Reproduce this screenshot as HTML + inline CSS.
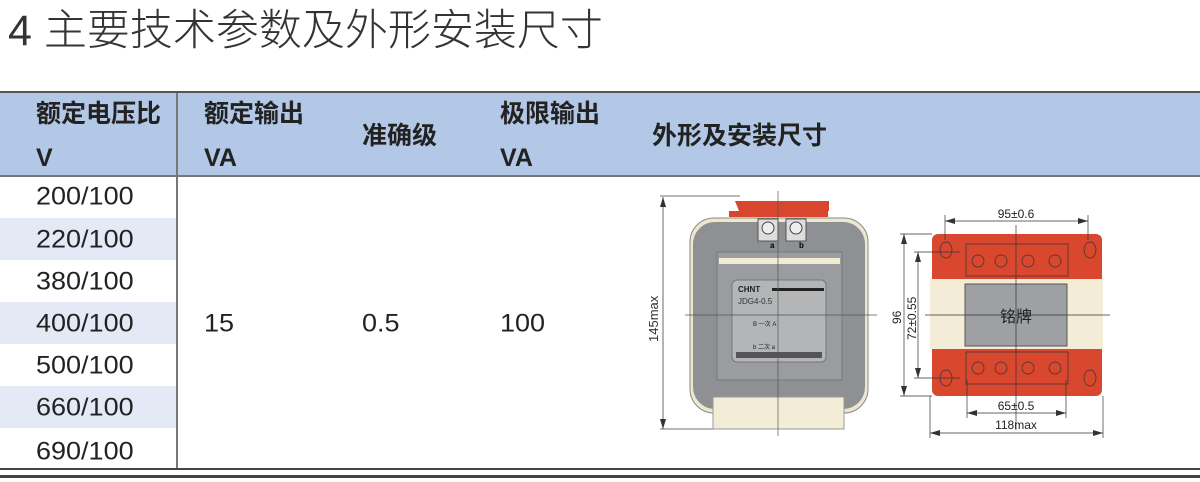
<!DOCTYPE html>
<html><head><meta charset="utf-8"><style>
body{margin:0;width:1200px;height:482px;background:#fff;font-family:"Liberation Sans","Noto Sans CJK SC",sans-serif;position:relative;overflow:hidden}
.a{position:absolute;white-space:nowrap}
.h{font-weight:bold;font-size:25px;color:#222;line-height:28px}
.c{font-size:27px;color:#222;line-height:30px;transform:scaleY(0.93);transform-origin:0 50%}
</style></head><body>
<div class="a" style="left:8px;top:6px;font-size:43px;color:#333;font-weight:300;line-height:50px">4 主要技术参数及外形安装尺寸</div>
<div class="a" style="left:0;top:91px;width:1200px;height:2px;background:#555"></div>
<div class="a" style="left:0;top:93px;width:1200px;height:83px;background:#b3c8e6"></div>
<div class="a" style="left:0;top:175px;width:1200px;height:2px;background:#777"></div>
<div class="a" style="left:0;top:218px;width:176px;height:42px;background:#e3eaf6"></div>
<div class="a" style="left:0;top:302px;width:176px;height:42px;background:#e3eaf6"></div>
<div class="a" style="left:0;top:386px;width:176px;height:42px;background:#e3eaf6"></div>
<div class="a" style="left:176px;top:93px;width:2px;height:377px;background:#777"></div>
<div class="a" style="left:0;top:468px;width:1200px;height:2px;background:#444"></div>
<div class="a" style="left:0;top:475px;width:1200px;height:3px;background:#444"></div>
<div class="a h" style="left:36px;top:100px">额定电压比</div>
<div class="a h" style="left:36px;top:144px">V</div>
<div class="a h" style="left:204px;top:100px">额定输出</div>
<div class="a h" style="left:204px;top:144px">VA</div>
<div class="a h" style="left:362px;top:122px">准确级</div>
<div class="a h" style="left:500px;top:100px">极限输出</div>
<div class="a h" style="left:500px;top:144px">VA</div>
<div class="a h" style="left:652px;top:122px">外形及安装尺寸</div>
<div class="a c" style="left:36px;top:181px">200/100</div>
<div class="a c" style="left:36px;top:224px">220/100</div>
<div class="a c" style="left:36px;top:266px">380/100</div>
<div class="a c" style="left:36px;top:308px">400/100</div>
<div class="a c" style="left:36px;top:350px">500/100</div>
<div class="a c" style="left:36px;top:392px">660/100</div>
<div class="a c" style="left:36px;top:436px">690/100</div>
<div class="a c" style="left:204px;top:308px">15</div>
<div class="a c" style="left:362px;top:308px">0.5</div>
<div class="a c" style="left:500px;top:308px">100</div>
<svg class="a" style="left:0;top:0" width="1200" height="482" font-family="Liberation Sans,Noto Sans CJK SC,sans-serif">
<defs><marker id="m" viewBox="0 0 10 6" refX="10" refY="3" markerWidth="10" markerHeight="6" orient="auto-start-reverse" markerUnits="userSpaceOnUse"><path d="M0,0L10,3L0,6z" fill="#333"/></marker></defs>
<g stroke="#444" stroke-width="0.8" fill="none">
<line x1="663" y1="197" x2="663" y2="429" marker-start="url(#m)" marker-end="url(#m)"/><line x1="660" y1="196" x2="740" y2="196"/><line x1="660" y1="429" x2="720" y2="429"/>
</g>
<text x="0" y="0" font-size="13" fill="#333" transform="translate(658,342) rotate(-90)">145max</text>
<rect x="690" y="218" width="178" height="195" rx="24" fill="#eee7cf" stroke="#888"/>
<rect x="693" y="222" width="172" height="187" rx="22" fill="#8e9093"/>
<rect x="717" y="252" width="125" height="128" fill="#9a9c9f" stroke="#777"/>
<rect x="719" y="258" width="121" height="6" fill="#f1ebd2"/>
<rect x="732" y="280" width="94" height="82" rx="5" fill="#b3b5b7" stroke="#777"/>
<text x="738" y="292" font-size="8" font-weight="bold" fill="#222">CHNT</text>
<rect x="772" y="288" width="52" height="3" fill="#222"/>
<text x="738" y="304" font-size="8" fill="#333">JDG4-0.5</text>
<text x="753" y="326" font-size="6" fill="#222">B  一次  A</text>
<text x="753" y="349" font-size="6" fill="#222">b  二次  a</text>
<rect x="736" y="352" width="86" height="6" fill="#555"/>
<rect x="713" y="397" width="131" height="32" fill="#f3edd8" stroke="#999"/>
<polygon points="735,201 829,201 829,211 739,211" fill="#d9462e"/>
<rect x="729" y="211" width="99" height="6" fill="#d9462e"/>
<rect x="758" y="219" width="20" height="22" fill="#ddd" stroke="#555"/><rect x="786" y="219" width="20" height="22" fill="#ddd" stroke="#555"/>
<circle cx="768" cy="228" r="6" fill="#eee" stroke="#444"/><circle cx="796" cy="228" r="6" fill="#eee" stroke="#444"/>
<text x="770" y="248" font-size="8" font-weight="bold">a</text><text x="799" y="248" font-size="8" font-weight="bold">b</text>
<line x1="778" y1="191" x2="778" y2="436" stroke="#555" stroke-width="0.7"/>
<line x1="685" y1="315" x2="877" y2="315" stroke="#555" stroke-width="0.7"/>
<rect x="932" y="234" width="170" height="162" rx="6" fill="#d9472e"/>
<rect x="930" y="279" width="173" height="70" fill="#f3edd8"/>
<rect x="965" y="284" width="102" height="62" fill="#9ea0a3" stroke="#555"/>
<text x="1016" y="322" font-size="16" text-anchor="middle" fill="#222">铭牌</text>
<g fill="none" stroke="#333" stroke-width="0.7">
<rect x="966" y="244" width="102" height="32"/><rect x="966" y="352" width="102" height="32"/>
<circle cx="978" cy="261" r="6"/><circle cx="1001" cy="261" r="6"/><circle cx="1028" cy="261" r="6"/><circle cx="1055" cy="261" r="6"/>
<circle cx="978" cy="368" r="6"/><circle cx="1001" cy="368" r="6"/><circle cx="1028" cy="368" r="6"/><circle cx="1055" cy="368" r="6"/>
<ellipse cx="946" cy="250" rx="6" ry="8"/><ellipse cx="1090" cy="250" rx="6" ry="8"/><ellipse cx="946" cy="378" rx="6" ry="8"/><ellipse cx="1090" cy="378" rx="6" ry="8"/>
<line x1="945" y1="221" x2="1088" y2="221" marker-start="url(#m)" marker-end="url(#m)"/><line x1="945" y1="215" x2="945" y2="240"/><line x1="1088" y1="215" x2="1088" y2="240"/>
<line x1="967" y1="413" x2="1066" y2="413" marker-start="url(#m)" marker-end="url(#m)"/><line x1="967" y1="380" x2="967" y2="418"/><line x1="1066" y1="380" x2="1066" y2="418"/>
<line x1="930" y1="433" x2="1103" y2="433" marker-start="url(#m)" marker-end="url(#m)"/><line x1="930" y1="396" x2="930" y2="438"/><line x1="1103" y1="396" x2="1103" y2="438"/>
<line x1="904" y1="234" x2="904" y2="396" marker-start="url(#m)" marker-end="url(#m)"/><line x1="900" y1="234" x2="932" y2="234"/><line x1="900" y1="396" x2="932" y2="396"/>
<line x1="918" y1="252" x2="918" y2="378" marker-start="url(#m)" marker-end="url(#m)"/><line x1="914" y1="252" x2="960" y2="252"/><line x1="914" y1="378" x2="960" y2="378"/>
<line x1="1016" y1="225" x2="1016" y2="430"/><line x1="925" y1="315" x2="1110" y2="315"/>
</g>
<text x="1016" y="218" font-size="12" text-anchor="middle" fill="#222">95±0.6</text>
<text x="1016" y="410" font-size="12" text-anchor="middle" fill="#222">65±0.5</text>
<text x="1016" y="429" font-size="12" text-anchor="middle" fill="#222">118max</text>
<text font-size="12" fill="#222" transform="translate(901,324) rotate(-90)">96</text>
<text font-size="12" fill="#222" transform="translate(916,340) rotate(-90)">72±0.55</text>
</svg>
</body></html>
